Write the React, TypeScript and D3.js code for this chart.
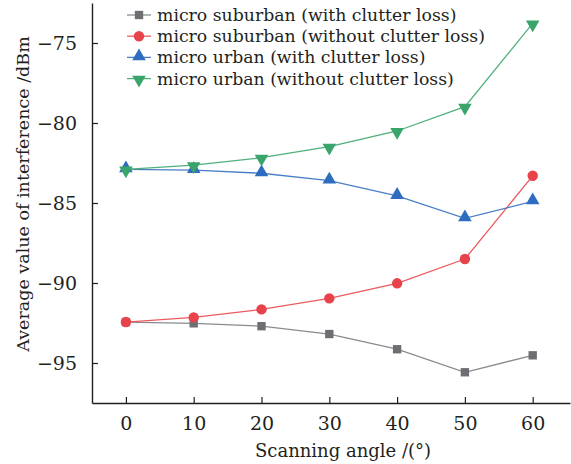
import { useEffect, useRef } from "react";
import * as d3 from "d3";

const angles = [0, 10, 20, 30, 40, 50, 60];
const suburbanWith = [-92.44, -92.52, -92.7, -93.19, -94.14, -95.58, -94.52];
const suburbanWithout = [-92.44, -92.15, -91.65, -90.96, -90.02, -88.5, -83.3];
const urbanWith = [-82.9, -82.94, -83.14, -83.6, -84.56, -85.96, -84.9];
const urbanWithout = [-82.9, -82.63, -82.17, -81.48, -80.5, -78.98, -73.77];
const seriesNames = [
  "micro suburban (with clutter loss)",
  "micro suburban (without clutter loss)",
  "micro urban (with clutter loss)",
  "micro urban (without clutter loss)",
];
const yTicks = [-95, -90, -85, -80, -75];
const xTicks = [0, 10, 20, 30, 40, 50, 60];

const FONT = "'DejaVu Serif', 'Liberation Serif', serif";

const App = () => {
  const svgRef = useRef<SVGSVGElement>(null);

  useEffect(() => {
    const w = 571;
    const h = 464;
    const svg = d3.select(svgRef.current).attr("width", w).attr("height", h);
    svg.selectAll("*").remove();

    const xScale = d3.scaleLinear().domain([-5, 65.5]).range([92, 570]);
    const yScale = d3.scaleLinear().domain([-97.5, -72.5]).range([403, 3]);

    const series = [
      { name: seriesNames[0], values: suburbanWith, color: "#6d6e71", line: "#8a8b8d", shape: "square" },
      { name: seriesNames[1], values: suburbanWithout, color: "#e8434a", line: "#ec5a60", shape: "circle" },
      { name: seriesNames[2], values: urbanWith, color: "#2d6cbf", line: "#4a7fc6", shape: "up" },
      { name: seriesNames[3], values: urbanWithout, color: "#3aa56b", line: "#4fb07b", shape: "down" },
    ];

    const symbolFor = (shape: string) => {
      if (shape === "square") return d3.symbol().type(d3.symbolSquare).size(70)();
      if (shape === "circle") return d3.symbol().type(d3.symbolCircle).size(85)();
      return d3.symbol().type(d3.symbolTriangle).size(80)();
    };
    const markTransform = (shape: string, x: number, y: number) => {
      const dy = shape === "up" ? -1 : shape === "down" ? 1 : 0;
      const rot = shape === "down" ? " rotate(180)" : "";
      return `translate(${x},${y + dy})${rot}`;
    };

    const line = d3
      .line<number>()
      .x((d, i) => xScale(angles[i]))
      .y((d) => yScale(d));

    // lines first, then markers on top
    series.forEach((s) => {
      svg
        .append("path")
        .attr("d", line(s.values))
        .attr("fill", "none")
        .attr("stroke", s.line)
        .attr("stroke-width", 1.3);
    });
    series.forEach((s) => {
      svg
        .selectAll(null)
        .data(s.values)
        .join("path")
        .attr("d", symbolFor(s.shape))
        .attr("fill", s.color)
        .attr("transform", (d, i) => markTransform(s.shape, xScale(angles[i]), yScale(d)));
    });

    // axes
    const axisColor = "#231f20";
    const xAxis = d3
      .axisBottom(xScale)
      .tickValues(xTicks)
      .tickSizeInner(-6)
      .tickSizeOuter(0)
      .tickPadding(14);
    const gx = svg.append("g").attr("transform", "translate(0,403)").call(xAxis);
    const yAxis = d3
      .axisLeft(yScale)
      .tickValues(yTicks)
      .tickSizeInner(-6)
      .tickSizeOuter(0)
      .tickPadding(15)
      .tickFormat((d) => d3.format("d")(d as number).replace("-", "\u2212"));
    const gy = svg.append("g").attr("transform", "translate(92,0)").call(yAxis);

    [gx, gy].forEach((g) => {
      g.select(".domain").attr("stroke", axisColor).attr("stroke-width", 1.4);
      g.selectAll(".tick line").attr("stroke", axisColor).attr("stroke-width", 1.2);
      g.selectAll(".tick text")
        .attr("fill", axisColor)
        .style("font-family", FONT)
        .style("font-size", "19px");
    });

    // axis titles
    svg
      .append("text")
      .attr("x", 343)
      .attr("y", 457)
      .attr("text-anchor", "middle")
      .attr("fill", axisColor)
      .style("font-family", FONT)
      .style("font-size", "18px")
      .text("Scanning angle /(°)");
    svg
      .append("text")
      .attr("transform", "translate(29,194) rotate(-90)")
      .attr("text-anchor", "middle")
      .attr("fill", axisColor)
      .style("font-family", FONT)
      .style("font-size", "17.5px")
      .text("Average value of interference /dBm");

    // legend
    const legend = svg.append("g");
    series.forEach((s, i) => {
      const y = 15 + i * 21.2;
      legend
        .append("line")
        .attr("x1", 127)
        .attr("x2", 151)
        .attr("y1", y)
        .attr("y2", y)
        .attr("stroke", s.line)
        .attr("stroke-width", 1.3);
      legend
        .append("path")
        .attr("d", symbolFor(s.shape))
        .attr("fill", s.color)
        .attr("transform", markTransform(s.shape, 139, y));
      legend
        .append("text")
        .attr("x", 157)
        .attr("y", y + 6)
        .attr("fill", axisColor)
        .style("font-family", FONT)
        .style("font-size", "17.3px")
        .text(s.name);
    });
  }, []);

  return (
    <div style={{ position: "absolute", left: 0, top: 0 }}>
      <svg ref={svgRef}></svg>
    </div>
  );
};

export default App;
